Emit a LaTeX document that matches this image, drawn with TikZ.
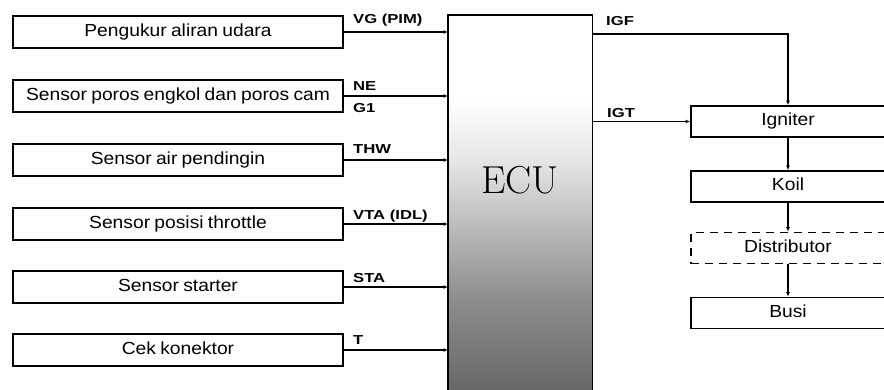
\documentclass[tikz,border=0pt]{standalone}
\usepackage{fontspec}
\newfontfamily\boxfont[FakeStretch=1.1,WordSpace=0.8]{Liberation Sans}
\newfontfamily\labfont[FakeStretch=1.28]{Liberation Sans}
\usetikzlibrary{arrows.meta}
\definecolor{ga}{gray}{0.9}
\definecolor{gb}{gray}{0.8}
\definecolor{gc}{gray}{0.55}
\definecolor{gd}{gray}{0.4}
\begin{document}
\begin{tikzpicture}[x=1pt,y=-1pt,
  sbox/.style={draw, line width=1.6pt, minimum width=330pt, minimum height=32pt, inner sep=0pt,
    font=\boxfont\fontsize{17.5}{17.5}\selectfont, text height=12pt, text depth=3.5pt},
  rbox/.style={draw, line width=1.6pt, minimum width=194pt, minimum height=31pt, inner sep=0pt,
    font=\boxfont\fontsize{17.5}{17.5}\selectfont, text height=12pt, text depth=3.5pt},
  lab/.style={anchor=base west, inner sep=0pt, font=\labfont\bfseries\fontsize{13}{13}\selectfont},
  conn/.style={line width=1.3pt, -{Latex[length=4.5pt,width=4pt]}},
  ecutext/.style={anchor=base, inner sep=0pt, font=\fontsize{39}{39}\selectfont}]
\useasboundingbox (0,0) rectangle (884,389);
\clip (0,0) rectangle (884,389);
% ECU shading
\fill[white] (448,15) rectangle (592,100.5);
\shade[top color=white, bottom color=ga] (448,100) rectangle (592,160.5);
\shade[top color=ga, bottom color=gb] (448,160) rectangle (592,200.5);
\shade[top color=gb, bottom color=gc] (448,200) rectangle (592,300.5);
\shade[top color=gc, bottom color=gd] (448,300) rectangle (592,395);
\node[minimum width=144pt, minimum height=385pt, anchor=north west, inner sep=0pt] (ecu) at (448,15) {};
\draw[line width=1.7pt] (ecu.south west) -- (ecu.north west) -- (ecu.north east) -- (ecu.south east);
\node[ecutext] (ecut) at (520,193) {ECU};
% left boxes
\node[sbox] (b1) at (178,32) {Pengukur aliran udara};
\node[sbox] (b2) at (178,96) {Sensor poros engkol dan poros cam};
\node[sbox] (b3) at (178,160) {Sensor air pendingin};
\node[sbox] (b4) at (178,224) {Sensor posisi throttle};
\node[sbox] (b5) at (178,287) {Sensor starter};
\node[sbox] (b6) at (178,350) {Cek konektor};
\foreach \b in {b1,b2,b3,b4,b5,b6}{
  \draw[conn] (\b.east) -- (\b.east -| ecu.west);
}
\node[lab] (l1) at (353,23) {VG (PIM)};
\node[lab] (l2) at (353,90) {NE};
\node[lab] (l2b) at (353,112) {G1};
\node[lab] (l3) at (353,153) {THW};
\node[lab] (l4) at (353,219) {VTA (IDL)};
\node[lab] (l5) at (353,282) {STA};
\node[lab] (l6) at (353,344) {T};
% right boxes
\node[rbox] (ign) at (788,121.5) {Igniter};
\node[rbox] (koil) at (788,186.5) {Koil};
\node[rbox, dashed, dash pattern=on 8pt off 6pt] (dist) at (788,248) {Distributor};
\node[rbox] (busi) at (788,313) {Busi};
\coordinate (igf) at (592,34);
\draw[conn] (igf) -| (ign.north);
\draw[conn] (ecu.east |- ign.west) -- (ign.west);
\draw[conn] (ign.south) -- (koil.north);
\draw[conn] (koil.south) -- (dist.north);
\draw[conn] (dist.south) -- (busi.north);
\node[lab] (ligf) at (606,25) {IGF};
\node[lab] (ligt) at (607,117) {IGT};
\end{tikzpicture}
\end{document}
